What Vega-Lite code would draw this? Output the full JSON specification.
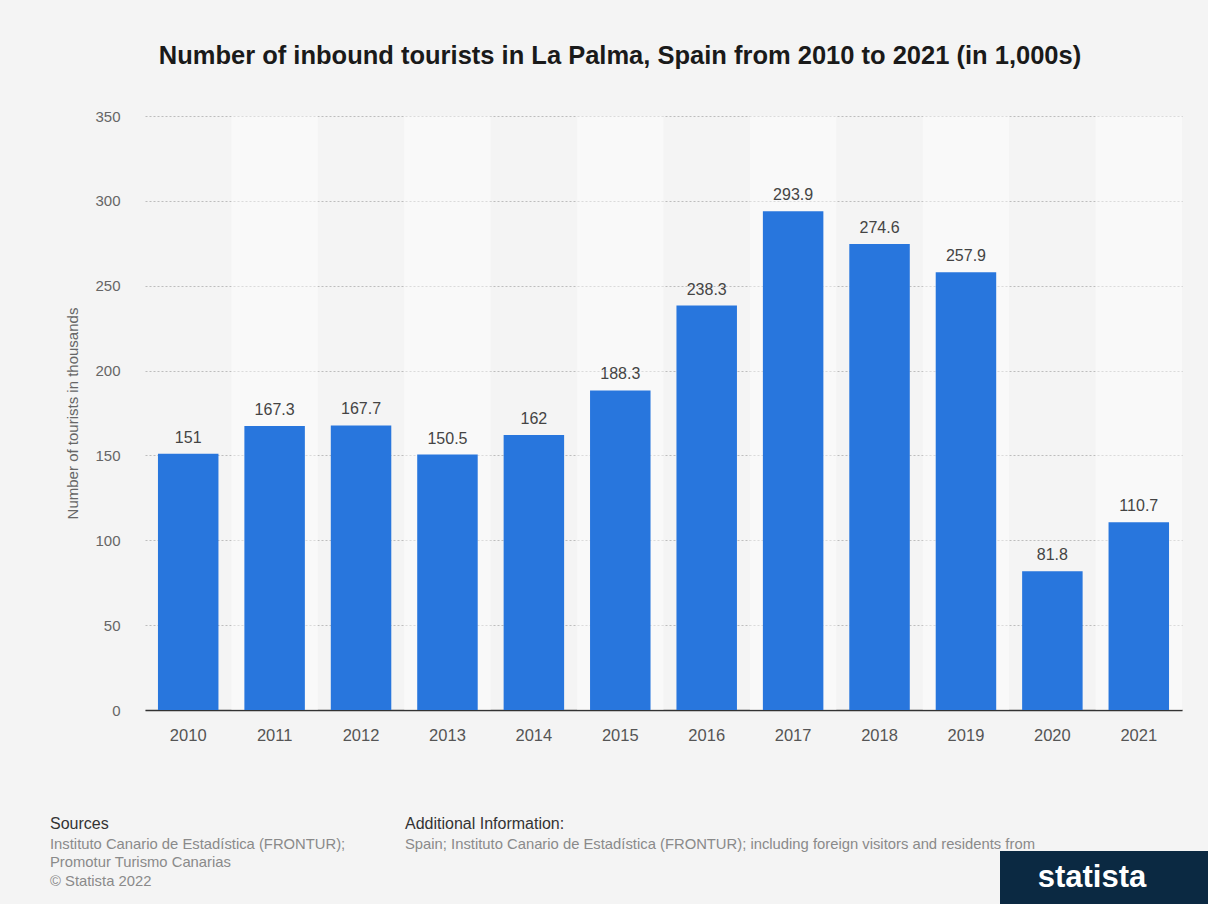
{
  "$schema": "https://vega.github.io/schema/vega-lite/v6.json",
  "background": "#f4f4f4",
  "padding": {"left": 50, "top": 43, "right": 0, "bottom": 0},
  "config": {
    "view": {"stroke": null},
    "font": "Liberation Sans",
    "text": {"font": "Liberation Sans"}
  },
  "title": {
    "text": "Number of inbound tourists in La Palma, Spain from 2010 to 2021 (in 1,000s)",
    "anchor": "middle",
    "fontSize": 25.5,
    "fontWeight": "bold",
    "color": "#1a1a1a",
    "font": "Liberation Sans",
    "offset": 40,
    "dx": -9
  },
  "spacing": 72,
  "vconcat": [
    {
      "width": 1037,
      "height": 594,
      "data": {
        "values": [
          {"year": "2010", "value": 151},
          {"year": "2011", "value": 167.3},
          {"year": "2012", "value": 167.7},
          {"year": "2013", "value": 150.5},
          {"year": "2014", "value": 162},
          {"year": "2015", "value": 188.3},
          {"year": "2016", "value": 238.3},
          {"year": "2017", "value": 293.9},
          {"year": "2018", "value": 274.6},
          {"year": "2019", "value": 257.9},
          {"year": "2020", "value": 81.8},
          {"year": "2021", "value": 110.7}
        ]
      },
      "layer": [
        {
          "transform": [{"filter": {"field": "year", "oneOf": ["2011", "2013", "2015", "2017", "2019", "2021"]}}],
          "mark": {"type": "rect", "color": "white", "opacity": 0.45},
          "encoding": {
            "x": {
              "field": "year",
              "type": "nominal",
              "scale": {"domain": ["2010", "2011", "2012", "2013", "2014", "2015", "2016", "2017", "2018", "2019", "2020", "2021"], "paddingInner": 0, "paddingOuter": 0},
              "axis": null
            },
            "y": {
              "datum": 350,
              "type": "quantitative",
              "scale": {"domain": [0, 350]},
              "axis": {
                "title": "Number of tourists in thousands",
                "values": [0, 50, 100, 150, 200, 250, 300, 350],
                "grid": true,
                "ticks": false,
                "domain": false,
                "labelPadding": 25,
                "labelFontSize": 15,
                "labelColor": "#666666",
                "labelFont": "Liberation Sans",
                "titleFont": "Liberation Sans",
                "titleFontSize": 15,
                "titleFontWeight": "normal",
                "titleColor": "#666666",
                "titlePadding": 14,
                "gridColor": "#bdbdbd",
                "gridDash": [2, 2],
                "gridWidth": 1
              }
            },
            "y2": {"datum": 0}
          }
        },
        {
          "encoding": {
            "x": {
              "field": "year",
              "type": "nominal",
              "scale": {"paddingInner": 0.3, "paddingOuter": 0.15},
              "axis": {
                "title": null,
                "labelAngle": 0,
                "ticks": false,
                "grid": false,
                "domainColor": "#333333",
                "domainWidth": 1.3,
                "labelFontSize": 16.5,
                "labelColor": "#555555",
                "labelPadding": 17,
                "labelFont": "Liberation Sans"
              }
            },
            "y": {
              "field": "value",
              "type": "quantitative",
              "scale": {"domain": [0, 350]},
              "axis": {
                "title": "Number of tourists in thousands",
                "values": [0, 50, 100, 150, 200, 250, 300, 350],
                "grid": true,
                "ticks": false,
                "domain": false,
                "labelPadding": 25,
                "labelFontSize": 15,
                "labelColor": "#666666",
                "labelFont": "Liberation Sans",
                "titleFont": "Liberation Sans",
                "titleFontSize": 15,
                "titleFontWeight": "normal",
                "titleColor": "#666666",
                "titlePadding": 14,
                "gridColor": "#bdbdbd",
                "gridDash": [2, 2],
                "gridWidth": 1
              }
            }
          },
          "layer": [
            {"mark": {"type": "bar", "color": "#2876dd"}},
            {
              "mark": {"type": "text", "baseline": "bottom", "dy": -8, "fontSize": 16, "color": "#444444"},
              "encoding": {"text": {"field": "value", "type": "nominal"}}
            }
          ]
        }
      ],
      "resolve": {"scale": {"x": "independent"}}
    },
    {
      "bounds": "flush",
      "spacing": 0,
      "hconcat": [
        {
          "width": 260,
          "height": 1,
          "data": {"values": []},
          "mark": {"type": "text"},
          "title": {
            "text": "Sources",
            "subtitle": ["Instituto Canario de Estadística (FRONTUR);", "Promotur Turismo Canarias", "© Statista 2022"],
            "orient": "bottom",
            "anchor": "start",
            "frame": "group",
            "offset": -36,
            "dx": -95,
            "font": "Liberation Sans",
            "fontSize": 16,
            "fontWeight": "normal",
            "color": "#333333",
            "subtitleFont": "Liberation Sans",
            "subtitleFontSize": 14.8,
            "subtitleColor": "#8a8a8a",
            "subtitleLineHeight": 18.5,
            "subtitlePadding": 4.5
          }
        },
        {
          "width": 595,
          "height": 1,
          "data": {"values": []},
          "mark": {"type": "text"},
          "title": {
            "text": "Additional Information:",
            "subtitle": ["Spain; Instituto Canario de Estadística (FRONTUR); including foreign visitors and residents from"],
            "orient": "bottom",
            "anchor": "start",
            "frame": "group",
            "offset": -36,
            "font": "Liberation Sans",
            "fontSize": 16,
            "fontWeight": "normal",
            "color": "#333333",
            "subtitleFont": "Liberation Sans",
            "subtitleFontSize": 14.8,
            "subtitleColor": "#8a8a8a",
            "subtitleLineHeight": 18.5,
            "subtitlePadding": 4.5
          }
        },
        {
          "width": 208,
          "height": 53,
          "view": {"fill": "#0b2942", "stroke": null},
          "data": {"values": [{}]},
          "mark": {"type": "text", "text": "statista", "color": "white", "fontSize": 31, "fontWeight": "bold", "dx": -12, "font": "Liberation Sans"}
        }
      ]
    }
  ]
}
